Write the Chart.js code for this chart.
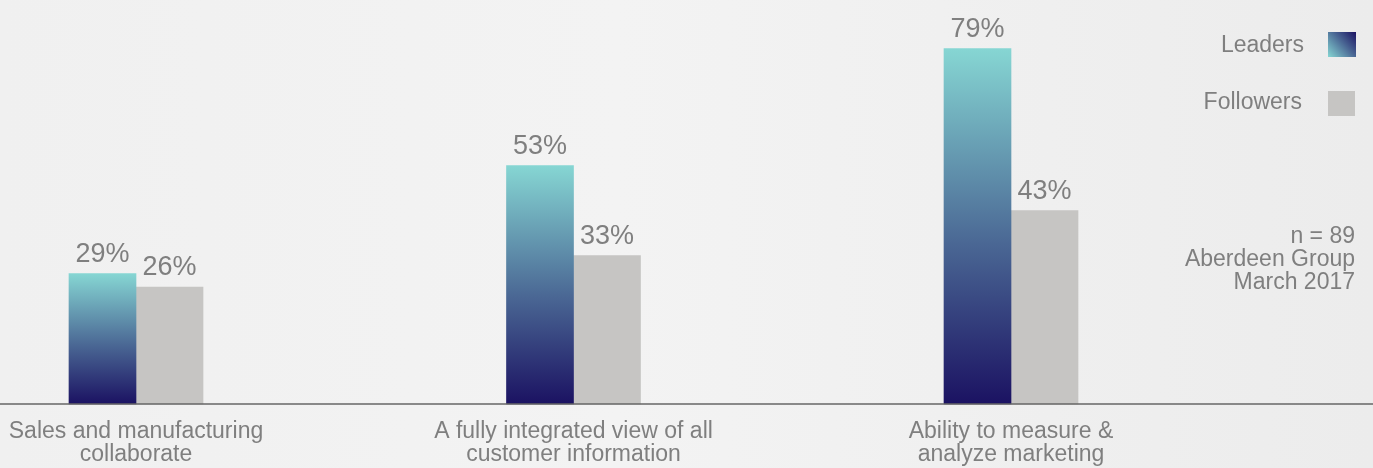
<!DOCTYPE html>
<html>
<head>
<meta charset="utf-8">
<title>Leaders vs Followers</title>
<script src="https://cdn.jsdelivr.net/npm/chart.js@4.4.1/dist/chart.umd.min.js"></script>
<style>
    html, body { margin: 0; padding: 0; background: #efefef; }
    #wrap { width: 1373px; height: 468px; position: relative; }
</style>
</head>
<body>
<div id="wrap"><canvas id="capabilityChart"></canvas></div>
<script>
// Dữ liệu
const categories = [
    ['Sales and manufacturing', 'collaborate'],
    ['A fully integrated view of all', 'customer information'],
    ['Ability to measure &', 'analyze marketing']
];
const leaders = [29, 53, 79];
const followers = [26, 33, 43];
const seriesNames = ['Leaders', 'Followers'];
const noteLines = ['n = 89', 'Aberdeen Group', 'March 2017'];

const FONT = 'Helvetica, "Liberation Sans", Arial, sans-serif';
const TEXT_COLOR = '#7f7f7f';
const FOLLOWER_COLOR = '#c6c5c3';

// gradient of one leaders bar, navy at the base -> teal at top
function leaderGradient(ctx, x0, y0, x1, y1) {
    const g = ctx.createLinearGradient(x0, y0, x1, y1);
    g.addColorStop(0, '#1b1262');
    g.addColorStop(0.45, '#4a6794');
    g.addColorStop(1, '#86d6d3');
    return g;
}

// background, baseline, value labels, legend and source note
const decorPlugin = {
    id: 'decor',
    beforeDraw(chart) {
        const { ctx, width, height } = chart;
        const bg = ctx.createLinearGradient(0, 0, width, 0);
        bg.addColorStop(0, '#f0f0f0');
        bg.addColorStop(0.45, '#f3f3f3');
        bg.addColorStop(1, '#ececec');
        ctx.save();
        ctx.fillStyle = bg;
        ctx.fillRect(0, 0, width, height);
        ctx.restore();
    },
    afterDatasetsDraw(chart) {
        const { ctx, width } = chart;
        const base = chart.scales.y.getPixelForValue(0);

        ctx.save();
        // baseline over the full width
        ctx.strokeStyle = '#666666';
        ctx.lineWidth = 1.5;
        ctx.beginPath();
        ctx.moveTo(0, base);
        ctx.lineTo(width, base);
        ctx.stroke();

        // value labels
        ctx.fillStyle = TEXT_COLOR;
        ctx.font = '27px ' + FONT;
        ctx.textAlign = 'center';
        ctx.textBaseline = 'alphabetic';
        chart.data.datasets.forEach((ds, di) => {
            chart.getDatasetMeta(di).data.forEach((bar, i) => {
                ctx.fillText(ds.data[i] + '%', bar.x, bar.y - 12);
            });
        });

        // legend at top right
        ctx.font = '23px ' + FONT;
        ctx.textAlign = 'right';
        ctx.textBaseline = 'middle';
        ctx.fillText(seriesNames[0], 1304, 46);
        ctx.fillText(seriesNames[1], 1302, 103);
        ctx.fillStyle = leaderGradient(ctx, 1356, 32, 1328, 57);
        ctx.fillRect(1328, 32, 28, 25);
        ctx.fillStyle = FOLLOWER_COLOR;
        ctx.fillRect(1328, 91, 27, 25);

        // source note
        ctx.fillStyle = TEXT_COLOR;
        noteLines.forEach((line, i) => {
            ctx.fillText(line, 1355, 237 + i * 23);
        });
        ctx.restore();
    }
};

const capabilityCtx = document.getElementById('capabilityChart').getContext('2d');
new Chart(capabilityCtx, {
    type: 'bar',
    data: {
        labels: categories,
        datasets: [{
            label: seriesNames[0],
            data: leaders,
            backgroundColor: function (context) {
                const chart = context.chart;
                if (!chart.chartArea || context.raw === undefined) return '#4a6794';
                const top = chart.scales.y.getPixelForValue(context.raw);
                const base = chart.scales.y.getPixelForValue(0);
                return leaderGradient(chart.ctx, 0, base, 0, top);
            },
            barThickness: 67,
            clip: false
        }, {
            label: seriesNames[1],
            data: followers,
            backgroundColor: FOLLOWER_COLOR,
            barThickness: 67,
            clip: false
        }]
    },
    options: {
        responsive: true,
        maintainAspectRatio: false,
        animation: false,
        layout: {
            padding: { left: 136, right: 362, top: 44, bottom: 0 }
        },
        plugins: {
            legend: { display: false },
            tooltip: { enabled: false }
        },
        scales: {
            x: {
                offset: false,
                grid: { display: false, drawTicks: false },
                border: { display: false },
                ticks: {
                    color: TEXT_COLOR,
                    font: { family: FONT, size: 23, lineHeight: 1 },
                    padding: 16,
                    maxRotation: 0,
                    autoSkip: false
                },
                // keep the plot area fixed, labels may hang over its edges
                afterFit: function (scale) {
                    scale.paddingLeft = 0;
                    scale.paddingRight = 0;
                    scale.height = 64;
                }
            },
            y: {
                display: false,
                min: 0,
                max: 80
            }
        }
    },
    plugins: [decorPlugin]
});
</script>
</body>
</html>
